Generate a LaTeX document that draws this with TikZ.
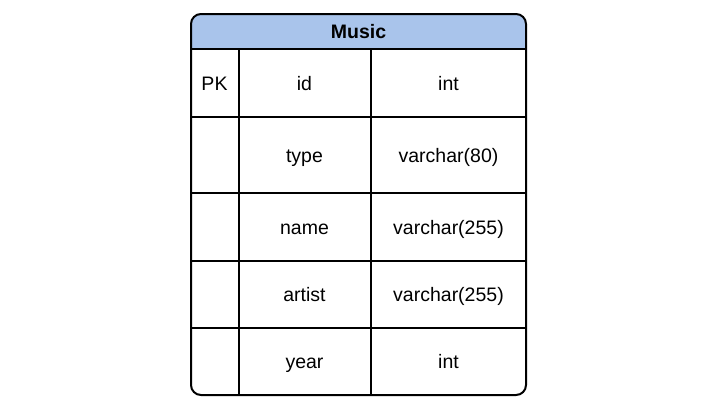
\documentclass[tikz,border=0pt]{standalone}
\usepackage{fontspec}
\setmainfont{Liberation Sans}
\definecolor{headblue}{RGB}{169, 196, 235}
\usetikzlibrary{positioning}
\tikzset{
    cell/.style={font=\fontsize{19.5}{22}\selectfont, inner sep=0pt, anchor=base},
    headcell/.style={cell, font=\fontsize{19.5}{22}\selectfont\bfseries},
    gridline/.style={line width=2pt, black},
}

\begin{document}
\begin{tikzpicture}[x=1pt, y=-1pt]
    \useasboundingbox (0,0) rectangle (726,413);

    % Header fill
    \begin{scope}
        \clip[rounded corners=10pt] (191,14) rectangle (526,395);
        \fill[headblue] (191,14) rectangle (526,49);
    \end{scope}

    % Grid
    \foreach \y in {49, 117, 193, 261, 328}
        \draw[gridline] (191,\y) -- (526,\y);
    \draw[gridline] (238.5,49) -- (238.5,395);
    \draw[gridline] (371,49) -- (371,395);
    \draw[gridline, rounded corners=10pt] (191,14) rectangle (526,395);

    % Title
    \node[headcell] (title) at (358.5, 38.5) {Music};

    % Rows (base line positions)
    \node[cell] (pk) at (214.5, 90) {PK};
    \node[cell] (idname) at (304.5, 90) {id};
    \node[cell] (idtype) at (448.5, 90) {int};
    \node[cell] (typename) at (304.5, 162) {type};
    \node[cell] (typetype) at (448.5, 162) {varchar(80)};
    \node[cell] (namename) at (304.5, 234) {name};
    \node[cell] (nametype) at (448.5, 234) {varchar(255)};
    \node[cell] (artistname) at (304.5, 301.5) {artist};
    \node[cell] (artisttype) at (448.5, 301.5) {varchar(255)};
    \node[cell] (yearname) at (304.5, 368.5) {year};
    \node[cell] (yeartype) at (448.5, 368.5) {int};
\end{tikzpicture}
\end{document}
